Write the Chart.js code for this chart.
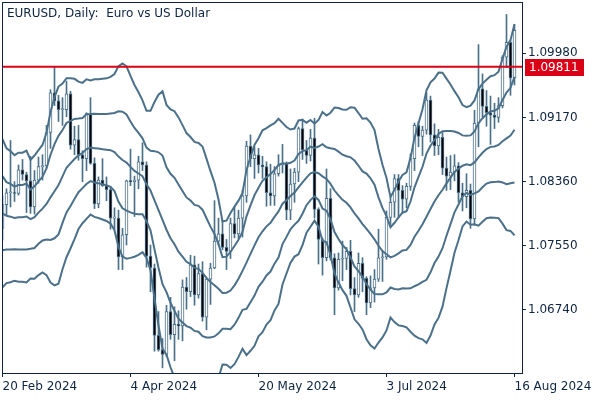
<!DOCTYPE html>
<html>
<head>
<meta charset="utf-8">
<script src="https://cdn.jsdelivr.net/npm/chart.js@4.4.1/dist/chart.umd.min.js"></script>
<style>
  html, body { margin: 0; padding: 0; background: #fff; }
  #wrap { width: 600px; height: 400px; position: relative; }
</style>
</head>
<body>
<div id="wrap"><canvas id="chart"></canvas></div>
<script>
// EURUSD daily candles, bar 0 = 20 Feb 2024 ... bar 128 = 16 Aug 2024
const opens = [
  1.0777, 1.0807, 1.0822, 1.0822, 1.0821, 1.0851, 1.0845, 1.0837, 1.0804, 1.0838,
  1.0855, 1.0856, 1.0898, 1.0948, 1.0938, 1.0927, 1.0927, 1.0947, 1.0882, 1.0889,
  1.0870, 1.0865, 1.0922, 1.0859, 1.0808, 1.0838, 1.0831, 1.0826, 1.0790, 1.0790,
  1.0741, 1.0769, 1.0837, 1.0836, 1.0838, 1.0861, 1.0857, 1.0742, 1.0727, 1.0642,
  1.0624, 1.0618, 1.0672, 1.0643, 1.0656, 1.0654, 1.0703, 1.0697, 1.0731, 1.0693,
  1.0720, 1.0665, 1.0713, 1.0727, 1.0761, 1.0770, 1.0753, 1.0748, 1.0783, 1.0770,
  1.0790, 1.0818, 1.0881, 1.0865, 1.0870, 1.0857, 1.0855, 1.0822, 1.0818, 1.0846,
  1.0857, 1.0859, 1.0800, 1.0833, 1.0848, 1.0903, 1.0876, 1.0869, 1.0891, 1.0801,
  1.0763, 1.0740, 1.0815, 1.0740, 1.0702, 1.0738, 1.0739, 1.0748, 1.0701, 1.0693,
  1.0733, 1.0714, 1.0683, 1.0702, 1.0713, 1.0740, 1.0741, 1.0791, 1.0810, 1.0840,
  1.0825, 1.0814, 1.0830, 1.0865, 1.0907, 1.0893, 1.0901, 1.0939, 1.0895, 1.0881,
  1.0892, 1.0853, 1.0843, 1.0848, 1.0856, 1.0822, 1.0817, 1.0825, 1.0789, 1.0910,
  1.0953, 1.0931, 1.0923, 1.0920, 1.0917, 1.0932, 1.0993, 1.1012, 1.0967
];
const highs = [
  1.0818, 1.0827, 1.0888, 1.0836, 1.0857, 1.0864, 1.0848, 1.0868, 1.0850, 1.0867,
  1.0870, 1.0907, 1.0952, 1.0981, 1.0945, 1.0942, 1.0963, 1.0950, 1.0906, 1.0907,
  1.0875, 1.0923, 1.0942, 1.0866, 1.0842, 1.0865, 1.0842, 1.0830, 1.0803, 1.0800,
  1.0777, 1.0838, 1.0877, 1.0843, 1.0868, 1.0885, 1.0861, 1.0756, 1.0732, 1.0672,
  1.0638, 1.0680, 1.0690, 1.0678, 1.0673, 1.0712, 1.0715, 1.0743, 1.0742, 1.0732,
  1.0735, 1.0714, 1.0733, 1.0812, 1.0790, 1.0787, 1.0763, 1.0790, 1.0804, 1.0800,
  1.0825, 1.0887, 1.0895, 1.0880, 1.0878, 1.0868, 1.0861, 1.0858, 1.0855, 1.0870,
  1.0883, 1.0861, 1.0852, 1.0853, 1.0905, 1.0915, 1.0888, 1.0902, 1.0916, 1.0803,
  1.0765, 1.0852, 1.0827, 1.0745, 1.0746, 1.0761, 1.0753, 1.0762, 1.0715, 1.0746,
  1.0740, 1.0716, 1.0717, 1.0725, 1.0776, 1.0748, 1.0799, 1.0816, 1.0845, 1.0845,
  1.0831, 1.0834, 1.0871, 1.0910, 1.0912, 1.0906, 1.0948, 1.0944, 1.0909, 1.0902,
  1.0898, 1.0867, 1.0869, 1.0870, 1.0860, 1.0834, 1.0846, 1.0833, 1.0926, 1.1009,
  1.0972, 1.0951, 1.0944, 1.0935, 1.0942, 1.0995, 1.1047, 1.1014, 1.1034
];
const lows = [
  1.0762, 1.0794, 1.0804, 1.0811, 1.0819, 1.0838, 1.0797, 1.0796, 1.0795, 1.0834,
  1.0838, 1.0854, 1.0878, 1.0932, 1.0912, 1.0907, 1.0918, 1.0877, 1.0870, 1.0863,
  1.0836, 1.0850, 1.0858, 1.0802, 1.0803, 1.0830, 1.0812, 1.0776, 1.0776, 1.0725,
  1.0725, 1.0756, 1.0831, 1.0792, 1.0827, 1.0850, 1.0728, 1.0697, 1.0622, 1.0622,
  1.0601, 1.0615, 1.0637, 1.0610, 1.0637, 1.0635, 1.0675, 1.0691, 1.0680, 1.0689,
  1.0660, 1.0649, 1.0681, 1.0726, 1.0756, 1.0750, 1.0725, 1.0739, 1.0765, 1.0764,
  1.0766, 1.0810, 1.0855, 1.0840, 1.0847, 1.0840, 1.0805, 1.0806, 1.0806, 1.0843,
  1.0847, 1.0788, 1.0788, 1.0810, 1.0836, 1.0864, 1.0859, 1.0862, 1.0790, 1.0732,
  1.0718, 1.0736, 1.0737, 1.0668, 1.0699, 1.0711, 1.0725, 1.0693, 1.0672, 1.0690,
  1.0697, 1.0668, 1.0677, 1.0684, 1.0710, 1.0710, 1.0738, 1.0782, 1.0791, 1.0790,
  1.0797, 1.0803, 1.0825, 1.0850, 1.0880, 1.0869, 1.0896, 1.0886, 1.0869, 1.0870,
  1.0845, 1.0825, 1.0826, 1.0837, 1.0810, 1.0799, 1.0803, 1.0777, 1.0781, 1.0880,
  1.0918, 1.0906, 1.0883, 1.0903, 1.0911, 1.0929, 1.0980, 1.0945, 1.0958
];
const closes = [
  1.0807, 1.0822, 1.0822, 1.0821, 1.0851, 1.0845, 1.0837, 1.0804, 1.0838, 1.0855,
  1.0856, 1.0898, 1.0948, 1.0938, 1.0927, 1.0927, 1.0947, 1.0882, 1.0889, 1.0870,
  1.0865, 1.0922, 1.0859, 1.0808, 1.0838, 1.0831, 1.0826, 1.0790, 1.0790, 1.0741,
  1.0769, 1.0837, 1.0836, 1.0838, 1.0861, 1.0857, 1.0742, 1.0727, 1.0642, 1.0624,
  1.0618, 1.0672, 1.0643, 1.0656, 1.0654, 1.0703, 1.0697, 1.0731, 1.0693, 1.0720,
  1.0665, 1.0713, 1.0727, 1.0761, 1.0770, 1.0753, 1.0748, 1.0783, 1.0770, 1.0790,
  1.0818, 1.0881, 1.0865, 1.0870, 1.0857, 1.0855, 1.0822, 1.0818, 1.0846, 1.0857,
  1.0859, 1.0800, 1.0833, 1.0848, 1.0903, 1.0876, 1.0869, 1.0891, 1.0801, 1.0763,
  1.0740, 1.0815, 1.0740, 1.0702, 1.0738, 1.0739, 1.0748, 1.0701, 1.0693, 1.0733,
  1.0714, 1.0683, 1.0702, 1.0713, 1.0740, 1.0741, 1.0791, 1.0810, 1.0840, 1.0825,
  1.0814, 1.0830, 1.0865, 1.0907, 1.0893, 1.0901, 1.0939, 1.0895, 1.0881, 1.0892,
  1.0853, 1.0843, 1.0848, 1.0856, 1.0822, 1.0817, 1.0825, 1.0789, 1.0910, 1.0953,
  1.0931, 1.0923, 1.0920, 1.0917, 1.0932, 1.0993, 1.1012, 1.0967, 1.1027
];

// Bollinger lines, one value per bar
const bandUp2 = [
  1.08897, 1.08779, 1.08746, 1.08694, 1.08725, 1.08725, 1.08752, 1.08634, 1.08690, 1.08757,
  1.08823, 1.08976, 1.09238, 1.09427, 1.09560, 1.09598, 1.09666, 1.09664, 1.09658, 1.09622,
  1.09607, 1.09651, 1.09636, 1.09651, 1.09653, 1.09658, 1.09664, 1.09683, 1.09719, 1.09818,
  1.09851, 1.09816, 1.09694, 1.09580, 1.09489, 1.09386, 1.09254, 1.09254, 1.09365, 1.09458,
  1.09502, 1.09329, 1.09273, 1.09249, 1.09171, 1.09073, 1.08973, 1.08923, 1.08861, 1.08848,
  1.08804, 1.08650, 1.08492, 1.08347, 1.08134, 1.07859, 1.07868, 1.07964, 1.08045, 1.08120,
  1.08218, 1.08506, 1.08673, 1.08824, 1.08908, 1.09008, 1.09036, 1.09070, 1.09098, 1.09153,
  1.09102, 1.09049, 1.09018, 1.09030, 1.09132, 1.09140, 1.09104, 1.09138, 1.09092, 1.09140,
  1.09239, 1.09194, 1.09230, 1.09296, 1.09290, 1.09270, 1.09267, 1.09299, 1.09294, 1.09226,
  1.09154, 1.09159, 1.09106, 1.09010, 1.08773, 1.08573, 1.08406, 1.08164, 1.08259, 1.08362,
  1.08445, 1.08477, 1.08657, 1.08912, 1.09097, 1.09274, 1.09512, 1.09613, 1.09661, 1.09736,
  1.09734, 1.09660, 1.09587, 1.09502, 1.09425, 1.09327, 1.09300, 1.09320, 1.09385, 1.09529,
  1.09597, 1.09646, 1.09691, 1.09704, 1.09748, 1.09910, 1.10064, 1.10146, 1.10349
];
const bandUp1 = [
  1.08429, 1.08354, 1.08332, 1.08298, 1.08318, 1.08318, 1.08336, 1.08260, 1.08301, 1.08363,
  1.08421, 1.08527, 1.08700, 1.08833, 1.08938, 1.09012, 1.09101, 1.09127, 1.09152, 1.09157,
  1.09164, 1.09211, 1.09213, 1.09217, 1.09215, 1.09214, 1.09214, 1.09220, 1.09226, 1.09247,
  1.09242, 1.09209, 1.09120, 1.09038, 1.08976, 1.08907, 1.08790, 1.08751, 1.08745, 1.08730,
  1.08690, 1.08541, 1.08459, 1.08409, 1.08324, 1.08243, 1.08161, 1.08121, 1.08066, 1.08054,
  1.08006, 1.07898, 1.07792, 1.07700, 1.07571, 1.07407, 1.07413, 1.07475, 1.07548, 1.07627,
  1.07726, 1.07922, 1.08061, 1.08190, 1.08283, 1.08371, 1.08416, 1.08455, 1.08507, 1.08569,
  1.08592, 1.08587, 1.08598, 1.08626, 1.08710, 1.08745, 1.08757, 1.08801, 1.08786, 1.08803,
  1.08833, 1.08794, 1.08781, 1.08772, 1.08739, 1.08700, 1.08680, 1.08667, 1.08626, 1.08561,
  1.08489, 1.08462, 1.08403, 1.08321, 1.08162, 1.08028, 1.07925, 1.07784, 1.07841, 1.07908,
  1.07968, 1.07988, 1.08109, 1.08288, 1.08419, 1.08548, 1.08715, 1.08814, 1.08885, 1.08962,
  1.08996, 1.08999, 1.08999, 1.08992, 1.08974, 1.08944, 1.08939, 1.08944, 1.08994, 1.09098,
  1.09161, 1.09209, 1.09245, 1.09254, 1.09286, 1.09390, 1.09485, 1.09544, 1.09682
];
const bandMid = [
  1.07961, 1.07929, 1.07918, 1.07902, 1.07911, 1.07911, 1.07920, 1.07886, 1.07912, 1.07969,
  1.08019, 1.08078, 1.08162, 1.08239, 1.08316, 1.08426, 1.08536, 1.08590, 1.08646, 1.08692,
  1.08721, 1.08771, 1.08790, 1.08783, 1.08777, 1.08770, 1.08764, 1.08757, 1.08733, 1.08676,
  1.08633, 1.08602, 1.08546, 1.08496, 1.08463, 1.08428, 1.08326, 1.08248, 1.08125, 1.08002,
  1.07878, 1.07753, 1.07645, 1.07569, 1.07477, 1.07413, 1.07349, 1.07319, 1.07271, 1.07260,
  1.07208, 1.07146, 1.07092, 1.07053, 1.07008, 1.06955, 1.06958, 1.06986, 1.07051, 1.07134,
  1.07234, 1.07338, 1.07449, 1.07556, 1.07658, 1.07734, 1.07796, 1.07840, 1.07916, 1.07985,
  1.08082, 1.08125, 1.08178, 1.08222, 1.08288, 1.08350, 1.08410, 1.08464, 1.08480, 1.08466,
  1.08427, 1.08394, 1.08332, 1.08248, 1.08188, 1.08130, 1.08093, 1.08035, 1.07958, 1.07896,
  1.07824, 1.07765, 1.07700, 1.07632, 1.07551, 1.07483, 1.07444, 1.07404, 1.07423, 1.07454,
  1.07491, 1.07499, 1.07561, 1.07664, 1.07741, 1.07822, 1.07918, 1.08015, 1.08109, 1.08188,
  1.08258, 1.08338, 1.08411, 1.08482, 1.08523, 1.08561, 1.08578, 1.08568, 1.08603, 1.08667,
  1.08725, 1.08772, 1.08799, 1.08804, 1.08824, 1.08870, 1.08906, 1.08942, 1.09015
];
const bandLow1 = [
  1.07493, 1.07504, 1.07504, 1.07506, 1.07504, 1.07504, 1.07504, 1.07512, 1.07523, 1.07575,
  1.07617, 1.07629, 1.07624, 1.07645, 1.07694, 1.07840, 1.07971, 1.08053, 1.08140, 1.08227,
  1.08278, 1.08331, 1.08367, 1.08349, 1.08339, 1.08326, 1.08314, 1.08294, 1.08240, 1.08105,
  1.08024, 1.07995, 1.07972, 1.07954, 1.07950, 1.07949, 1.07862, 1.07745, 1.07505, 1.07274,
  1.07066, 1.06965, 1.06831, 1.06729, 1.06630, 1.06583, 1.06537, 1.06517, 1.06476, 1.06466,
  1.06410, 1.06394, 1.06392, 1.06406, 1.06445, 1.06503, 1.06503, 1.06497, 1.06554, 1.06641,
  1.06742, 1.06754, 1.06837, 1.06922, 1.07033, 1.07097, 1.07176, 1.07225, 1.07325, 1.07401,
  1.07572, 1.07663, 1.07758, 1.07818, 1.07866, 1.07955, 1.08063, 1.08127, 1.08174, 1.08129,
  1.08021, 1.07994, 1.07883, 1.07724, 1.07637, 1.07560, 1.07506, 1.07403, 1.07290, 1.07231,
  1.07159, 1.07068, 1.06997, 1.06943, 1.06940, 1.06938, 1.06963, 1.07024, 1.07005, 1.07000,
  1.07014, 1.07010, 1.07013, 1.07040, 1.07063, 1.07096, 1.07121, 1.07216, 1.07333, 1.07414,
  1.07520, 1.07677, 1.07823, 1.07972, 1.08072, 1.08178, 1.08217, 1.08192, 1.08212, 1.08236,
  1.08289, 1.08335, 1.08353, 1.08354, 1.08362, 1.08350, 1.08327, 1.08340, 1.08348
];
const bandLow2 = [
  1.07025, 1.07079, 1.07090, 1.07110, 1.07097, 1.07097, 1.07088, 1.07138, 1.07134, 1.07181,
  1.07215, 1.07180, 1.07086, 1.07051, 1.07072, 1.07254, 1.07406, 1.07516, 1.07634, 1.07762,
  1.07835, 1.07891, 1.07944, 1.07915, 1.07901, 1.07882, 1.07864, 1.07831, 1.07747, 1.07534,
  1.07415, 1.07388, 1.07398, 1.07412, 1.07437, 1.07470, 1.07398, 1.07242, 1.06885, 1.06546,
  1.06254, 1.06177, 1.06017, 1.05889, 1.05783, 1.05753, 1.05725, 1.05715, 1.05681, 1.05672,
  1.05612, 1.05642, 1.05692, 1.05759, 1.05882, 1.06051, 1.06048, 1.06008, 1.06057, 1.06148,
  1.06250, 1.06170, 1.06225, 1.06288, 1.06408, 1.06460, 1.06556, 1.06610, 1.06734, 1.06817,
  1.07062, 1.07201, 1.07338, 1.07414, 1.07444, 1.07560, 1.07716, 1.07790, 1.07868, 1.07792,
  1.07615, 1.07594, 1.07434, 1.07200, 1.07086, 1.06990, 1.06919, 1.06771, 1.06622, 1.06566,
  1.06494, 1.06371, 1.06294, 1.06254, 1.06329, 1.06393, 1.06482, 1.06644, 1.06587, 1.06546,
  1.06537, 1.06521, 1.06465, 1.06416, 1.06385, 1.06370, 1.06324, 1.06417, 1.06557, 1.06640,
  1.06782, 1.07016, 1.07235, 1.07462, 1.07621, 1.07795, 1.07856, 1.07816, 1.07821, 1.07805,
  1.07853, 1.07898, 1.07907, 1.07904, 1.07900, 1.07830, 1.07748, 1.07738, 1.07681
];

const levelPrice = 1.09811;
const priceTicks = [1.06740, 1.07550, 1.08360, 1.09170, 1.09980];
const dateTickBars = [0, 32, 64, 96, 128];
const dateTickLabels = ['20 Feb 2024', '4 Apr 2024', '20 May 2024', '3 Jul 2024', '16 Aug 2024'];
const titleText = 'EURUSD, Daily:  Euro vs US Dollar';

const navy = '#0e2440';
const steel = '#4b7089';
const red = '#dc0016';

const bars = closes.map((c, i) => i);

// frame, title and the red price tag
const extras = {
    id: 'extras',
    afterDraw(chart) {
        const ctx = chart.ctx;
        const a = chart.chartArea;
        ctx.save();
        ctx.strokeStyle = navy;
        ctx.lineWidth = 1;
        ctx.strokeRect(a.left + 0.5, a.top + 0.5, a.right - a.left, a.bottom - a.top);

        ctx.font = '12px "DejaVu Sans"';
        ctx.fillStyle = navy;
        ctx.textBaseline = 'middle';
        ctx.textAlign = 'left';
        ctx.fillText(titleText, 7, 14);

        const y = Math.round(chart.scales.y.getPixelForValue(levelPrice));
        ctx.fillStyle = red;
        ctx.fillRect(a.right + 3, y - 8, 59, 17);
        ctx.fillStyle = '#ffffff';
        ctx.fillText(levelPrice.toFixed(5), a.right + 7, y + 1);
        ctx.restore();
    }
};

function lineSet(values) {
    return {
        type: 'line',
        data: values.map((v, i) => ({ x: i, y: v })),
        borderColor: steel,
        borderWidth: 2,
        pointRadius: 0,
        tension: 0,
        order: 1
    };
}

Chart.defaults.font.family = 'DejaVu Sans';
Chart.defaults.font.size = 12;
Chart.defaults.color = navy;

new Chart(document.getElementById('chart'), {
    type: 'bar',
    data: {
        datasets: [
            {
                type: 'line',
                data: [{ x: -2, y: levelPrice }, { x: 132, y: levelPrice }],
                borderColor: red,
                borderWidth: 2,
                pointRadius: 0,
                order: 0
            },
            lineSet(bandUp2),
            lineSet(bandUp1),
            lineSet(bandMid),
            lineSet(bandLow1),
            lineSet(bandLow2),
            {
                // candle bodies
                data: bars.map(i => ({ x: i, y: [opens[i], closes[i]] })),
                backgroundColor: bars.map(i => closes[i] >= opens[i] ? '#ffffff' : '#000000'),
                borderColor: steel,
                borderWidth: 1,
                borderSkipped: false,
                barThickness: 3,
                minBarLength: 1,
                grouped: false,
                order: 2
            },
            {
                // wicks
                data: bars.map(i => ({ x: i, y: [lows[i], highs[i]] })),
                backgroundColor: steel,
                borderWidth: 0,
                barThickness: 1,
                grouped: false,
                order: 3
            }
        ]
    },
    options: {
        responsive: true,
        maintainAspectRatio: false,
        devicePixelRatio: 1,
        animation: false,
        layout: { padding: { left: 2, top: 2, right: 0, bottom: 0 } },
        plugins: {
            legend: { display: false },
            tooltip: { enabled: false },
            title: { display: false }
        },
        scales: {
            x: {
                type: 'linear',
                offset: false,
                min: -0.125,
                max: 129.875,
                border: { display: false },
                grid: { offset: false, drawOnChartArea: false, drawTicks: true, tickLength: 4, color: navy },
                afterBuildTicks: (s) => { s.ticks = dateTickBars.map(v => ({ value: v })); },
                afterFit: (s) => { s.height = 27; s.paddingLeft = 0; s.paddingRight = 0; },
                ticks: {
                    autoSkip: false,
                    maxRotation: 0,
                    align: 'start',
                    padding: 3,
                    color: navy,
                    callback: (v, idx) => dateTickLabels[idx]
                }
            },
            y: {
                type: 'linear',
                position: 'right',
                min: 1.059448,
                max: 1.106275,
                border: { display: false },
                grid: { drawOnChartArea: false, drawTicks: true, tickLength: 4, color: navy },
                afterBuildTicks: (s) => { s.ticks = priceTicks.map(v => ({ value: v })); },
                afterFit: (s) => { s.width = 78; s.paddingTop = 0; s.paddingBottom = 0; },
                ticks: {
                    padding: 2,
                    color: navy,
                    callback: (v) => v.toFixed(5)
                }
            }
        }
    },
    plugins: [extras]
});
</script>
</body>
</html>
